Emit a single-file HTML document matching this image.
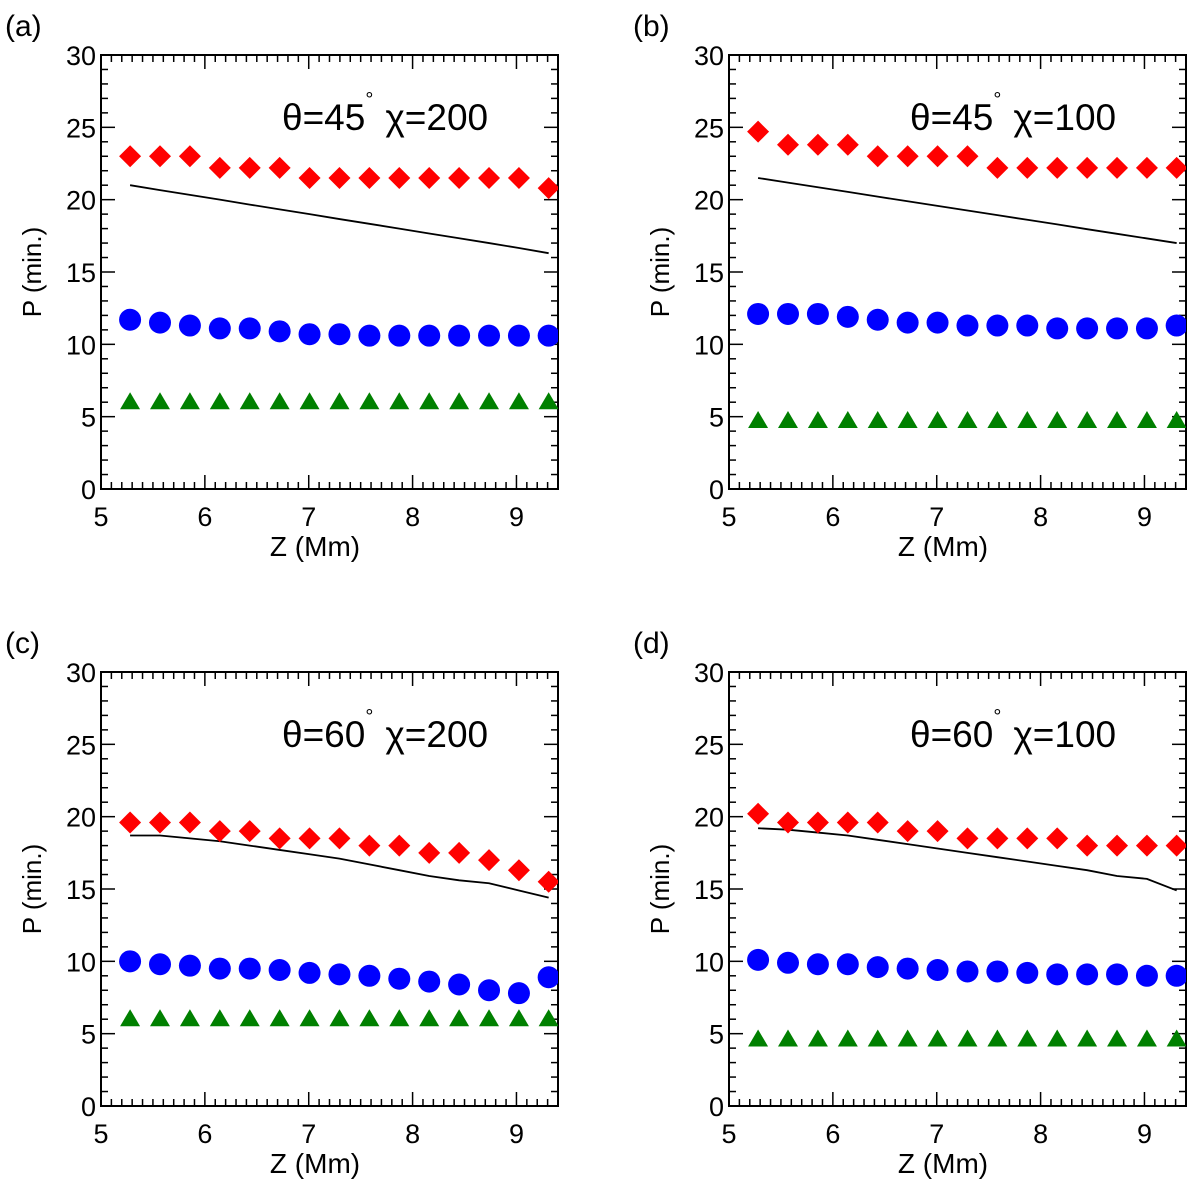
<!DOCTYPE html>
<html><head><meta charset="utf-8"><style>
body{margin:0;background:#fff;}
svg{display:block;font-family:"Liberation Sans",Arial,sans-serif;}
</style></head><body>
<svg id="chart" width="1200" height="1181" viewBox="0 0 1200 1181"></svg>
<script>
const zValues = [5.28,5.568,5.856,6.144,6.432,6.72,7.008,7.296,7.584,7.872,8.16,8.448,8.736,9.024,9.31];
const redA = [23,23,23,22.2,22.2,22.2,21.5,21.5,21.5,21.5,21.5,21.5,21.5,21.5,20.8];
const lineA = [21,20.66,20.33,20.0,19.66,19.33,19.0,18.66,18.33,18.0,17.66,17.33,17.0,16.66,16.3];
const blueA = [11.7,11.5,11.3,11.1,11.1,10.9,10.7,10.7,10.6,10.6,10.6,10.6,10.6,10.6,10.6];
const greenA = [6,6,6,6,6,6,6,6,6,6,6,6,6,6,6];
const redB = [24.7,23.8,23.8,23.8,23,23,23,23,22.2,22.2,22.2,22.2,22.2,22.2,22.2];
const lineB = [21.5,21.18,20.86,20.54,20.21,19.89,19.57,19.25,18.93,18.61,18.29,17.96,17.64,17.32,17.0];
const blueB = [12.1,12.1,12.1,11.9,11.7,11.5,11.5,11.3,11.3,11.3,11.1,11.1,11.1,11.1,11.3];
const greenB = [4.7,4.7,4.7,4.7,4.7,4.7,4.7,4.7,4.7,4.7,4.7,4.7,4.7,4.7,4.7];
const redC = [19.6,19.6,19.6,19,19,18.5,18.5,18.5,18,18,17.5,17.5,17,16.3,15.5];
const lineC = [18.7,18.7,18.5,18.3,18,17.7,17.4,17.1,16.7,16.3,15.9,15.6,15.4,14.9,14.4];
const blueC = [10,9.8,9.7,9.5,9.5,9.4,9.2,9.1,9,8.8,8.6,8.4,8,7.8,8.9];
const greenC = [6,6,6,6,6,6,6,6,6,6,6,6,6,6,6];
const redD = [20.2,19.6,19.6,19.6,19.6,19,19,18.5,18.5,18.5,18.5,18,18,18,18];
const lineD = [19.2,19.1,18.9,18.7,18.4,18.1,17.8,17.5,17.2,16.9,16.6,16.3,15.9,15.7,14.9];
const blueD = [10.1,9.9,9.8,9.8,9.6,9.5,9.4,9.3,9.3,9.2,9.1,9.1,9.1,9.0,9.0];
const greenD = [4.6,4.6,4.6,4.6,4.6,4.6,4.6,4.6,4.6,4.6,4.6,4.6,4.6,4.6,4.6];
const xTicks = [5,6,7,8,9];
const yTicks = [0,5,10,15,20,25,30];
const panelLabels = ["(a)","(b)","(c)","(d)"];
const thetaLabels = ["45","45","60","60"];
const chiLabels = ["200","100","200","100"];

const NS="http://www.w3.org/2000/svg";
const svg=document.getElementById('chart');
function mk(tag,attrs,parent){const e=document.createElementNS(NS,tag);for(const k in attrs)e.setAttribute(k,attrs[k]);(parent||svg).appendChild(e);return e;}

const panels=[
 {x0:101,y0:55,red:redA,line:lineA,blue:blueA,green:greenA},
 {x0:729,y0:55,red:redB,line:lineB,blue:blueB,green:greenB},
 {x0:101,y0:672,red:redC,line:lineC,blue:blueC,green:greenC},
 {x0:729,y0:672,red:redD,line:lineD,blue:blueD,green:greenD}
];
const W=457,H=434,XMIN=5,XMAX=9.4,YMAX=30;

panels.forEach((p,pi)=>{
 const g=mk('g',{});
 
 
 const sx=v=>p.x0+(v-XMIN)/(XMAX-XMIN)*W;
 const sy=v=>p.y0+H-(v/YMAX)*H;
 const cid='clip'+pi;
 const cp=mk('clipPath',{id:cid},g);mk('rect',{x:p.x0,y:p.y0,width:W,height:H},cp);
 for(let i=0;i<=44;i++){const v=5+i*0.1;if(v>XMAX+1e-6)break;const x=sx(v);const L=(i%10===0)?14:7;
  mk('line',{x1:x,y1:p.y0+H,x2:x,y2:p.y0+H-L,stroke:'#000','stroke-width':1.5},g);
  mk('line',{x1:x,y1:p.y0,x2:x,y2:p.y0+L,stroke:'#000','stroke-width':1.5},g);}
 for(let v=0;v<=30;v++){const y=sy(v);const L=(v%5===0)?14:7;
  mk('line',{x1:p.x0,y1:y,x2:p.x0+L,y2:y,stroke:'#000','stroke-width':1.5},g);
  mk('line',{x1:p.x0+W,y1:y,x2:p.x0+W-L,y2:y,stroke:'#000','stroke-width':1.5},g);}
 const box=mk('rect',{x:p.x0,y:p.y0,width:W,height:H,fill:'none',stroke:'#000','stroke-width':2},g);
 
 
 xTicks.forEach(v=>{const t=mk('text',{x:sx(v),y:p.y0+H+37,'font-size':27,'text-anchor':'middle'},g);t.textContent=v;
  
  });
 yTicks.forEach(v=>{const t=mk('text',{x:p.x0-5,y:sy(v)+10,'font-size':27,'text-anchor':'end'},g);t.textContent=v;
  
  });
 const xt=mk('text',{x:p.x0+214,y:p.y0+H+67,'font-size':28,'text-anchor':'middle'},g);xt.textContent='Z (Mm)';
 
 
 const yt=mk('text',{x:0,y:0,'font-size':26,'text-anchor':'middle',transform:`translate(${p.x0-60},${p.y0+H/2}) rotate(-90)`},g);yt.textContent='P (min.)';
 
 
 const pl=mk('text',{x:p.x0-96,y:p.y0-19,'font-size':30},g);pl.textContent=panelLabels[pi];
 
 
 const an=mk('text',{x:p.x0+181,y:p.y0+75,'font-size':37},g);
 
 
 const s1=mk('tspan',{},an);s1.textContent='θ='+thetaLabels[pi];
 const s2=mk('tspan',{'font-size':20,dy:-24},an);s2.textContent='°';
 const s3=mk('tspan',{dy:24,dx:12},an);s3.textContent='χ='+chiLabels[pi];
 const dg=mk('g',{'clip-path':`url(#${cid})`},g);
 const pts=zValues.map((z,i)=>sx(z)+','+sy(p.line[i])).join(' ');
 const ln=mk('polyline',{points:pts,fill:'none',stroke:'#000','stroke-width':1.8},dg);
 
 
 zValues.forEach((z,i)=>{
  const x=sx(z);
  let y=sy(p.red[i]);
  const d=mk('polygon',{points:`${x},${y-11} ${x+11},${y} ${x},${y+11} ${x-11},${y}`,fill:'#ff0000'},dg);
  
  
  y=sy(p.blue[i]);
  const c=mk('circle',{cx:x,cy:y,r:11,fill:'#0000ff'},dg);
  
  
  y=sy(p.green[i]);
  const t=mk('polygon',{points:`${x},${y-10} ${x+10},${y+7} ${x-10},${y+7}`,fill:'#008000'},dg);
  
  
 });
});
</script>
</body></html>
